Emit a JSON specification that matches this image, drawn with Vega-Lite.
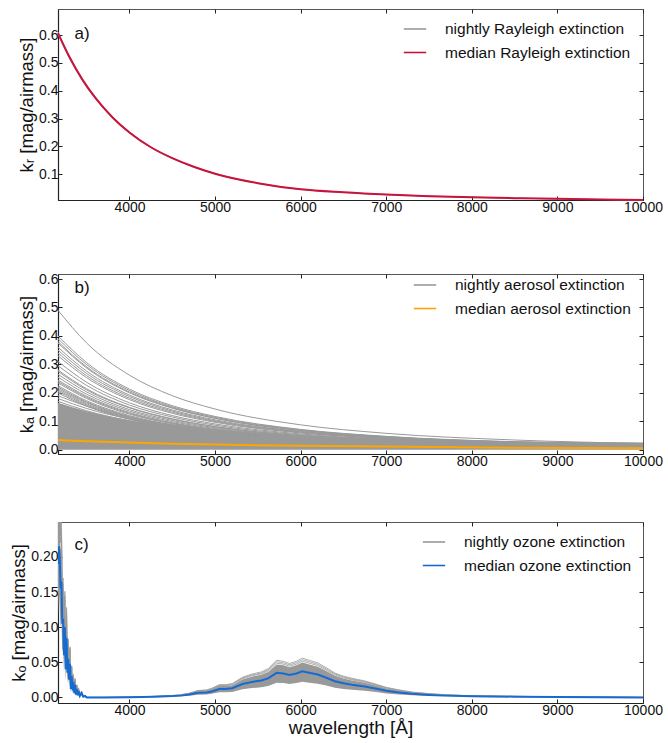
{
  "$schema": "https://vega.github.io/schema/vega-lite/v6.json",
  "padding": {"left": 9, "top": 8, "right": 0, "bottom": 0},
  "config": {
    "font": "Liberation Sans",
    "view": {"stroke": "#555", "strokeWidth": 1},
    "axis": {"domainColor": "#222", "domainWidth": 1.2, "tickColor": "#222", "tickSize": -4, "tickWidth": 1, "labelFontSize": 14, "labelColor": "#111", "labelPadding": 4, "labelFlush": false, "titleFontSize": 18.5, "titleFontWeight": "normal", "titleColor": "#111", "titlePadding": 2, "grid": false},
    "legend": {"labelFontSize": 15.5, "labelColor": "#111", "labelLimit": 0, "symbolType": "stroke", "symbolSize": 500, "symbolStrokeWidth": 1.6, "labelOffset": 18, "padding": 0, "rowPadding": 2.5, "orient": "none"}
  },
  "datasets": {
    "ray": [
      {"w": 3165, "m": 0.607, "n1": 0.611, "n2": 0.603},
      {"w": 3300, "m": 0.52, "n1": 0.524, "n2": 0.516},
      {"w": 3450, "m": 0.44, "n1": 0.443, "n2": 0.437},
      {"w": 3600, "m": 0.375, "n1": 0.378, "n2": 0.372},
      {"w": 3800, "m": 0.305, "n1": 0.307, "n2": 0.303},
      {"w": 4000, "m": 0.25, "n1": 0.252, "n2": 0.248},
      {"w": 4250, "m": 0.197, "n1": 0.198, "n2": 0.196},
      {"w": 4500, "m": 0.158, "n1": 0.159, "n2": 0.157},
      {"w": 4750, "m": 0.127, "n1": 0.128, "n2": 0.126},
      {"w": 5000, "m": 0.102, "n1": 0.103, "n2": 0.101},
      {"w": 5500, "m": 0.068, "n1": 0.0686, "n2": 0.0675},
      {"w": 6000, "m": 0.046, "n1": 0.0464, "n2": 0.0456},
      {"w": 6500, "m": 0.035, "n1": 0.0353, "n2": 0.0347},
      {"w": 7000, "m": 0.027, "n1": 0.0272, "n2": 0.0268},
      {"w": 7500, "m": 0.0215, "n1": 0.0217, "n2": 0.0213},
      {"w": 8000, "m": 0.0175, "n1": 0.0177, "n2": 0.0173},
      {"w": 8500, "m": 0.0142, "n1": 0.0143, "n2": 0.0141},
      {"w": 9000, "m": 0.0117, "n1": 0.0118, "n2": 0.0116},
      {"w": 9500, "m": 0.0096, "n1": 0.0097, "n2": 0.0095},
      {"w": 10000, "m": 0.0078, "n1": 0.0079, "n2": 0.0077}
    ],
    "aer": [
      {"w": 3165, "core": 0.165, "med": 0.034, "l1": 0.49, "l2": 0.40, "l3": 0.39, "l4": 0.38, "l5": 0.375, "l6": 0.36, "l7": 0.35, "l8": 0.34, "l9": 0.33, "l10": 0.31, "l11": 0.295, "l12": 0.28, "l13": 0.275, "l14": 0.265, "l15": 0.255, "l16": 0.245, "l17": 0.24, "l18": 0.235, "l19": 0.225, "l20": 0.22, "l21": 0.215, "l22": 0.21, "l23": 0.205, "l24": 0.20, "l25": 0.19, "l26": 0.18, "l27": 0.17, "l28": 0.16, "l29": 0.15, "l30": 0.14},
      {"w": 3500, "core": 0.135, "med": 0.030, "l1": 0.375, "l2": 0.306, "l3": 0.299, "l4": 0.291, "l5": 0.287, "l6": 0.276, "l7": 0.268, "l8": 0.260, "l9": 0.253, "l10": 0.237, "l11": 0.226, "l12": 0.214, "l13": 0.210, "l14": 0.203, "l15": 0.195, "l16": 0.188, "l17": 0.184, "l18": 0.180, "l19": 0.172, "l20": 0.168, "l21": 0.165, "l22": 0.161, "l23": 0.157, "l24": 0.153, "l25": 0.153, "l26": 0.145, "l27": 0.137, "l28": 0.129, "l29": 0.121, "l30": 0.113},
      {"w": 4000, "core": 0.104, "med": 0.025, "l1": 0.262, "l2": 0.213, "l3": 0.208, "l4": 0.203, "l5": 0.200, "l6": 0.192, "l7": 0.187, "l8": 0.181, "l9": 0.176, "l10": 0.165, "l11": 0.157, "l12": 0.149, "l13": 0.147, "l14": 0.141, "l15": 0.136, "l16": 0.131, "l17": 0.128, "l18": 0.125, "l19": 0.120, "l20": 0.117, "l21": 0.115, "l22": 0.112, "l23": 0.109, "l24": 0.107, "l25": 0.114, "l26": 0.108, "l27": 0.102, "l28": 0.0959, "l29": 0.0899, "l30": 0.0839},
      {"w": 4500, "core": 0.084, "med": 0.021, "l1": 0.190, "l2": 0.155, "l3": 0.151, "l4": 0.148, "l5": 0.146, "l6": 0.140, "l7": 0.136, "l8": 0.132, "l9": 0.128, "l10": 0.120, "l11": 0.115, "l12": 0.109, "l13": 0.107, "l14": 0.103, "l15": 0.099, "l16": 0.0951, "l17": 0.0932, "l18": 0.0913, "l19": 0.0874, "l20": 0.0854, "l21": 0.0835, "l22": 0.0815, "l23": 0.0796, "l24": 0.0777, "l25": 0.0879, "l26": 0.0833, "l27": 0.0786, "l28": 0.074, "l29": 0.0694, "l30": 0.0648},
      {"w": 5000, "core": 0.069, "med": 0.018, "l1": 0.143, "l2": 0.117, "l3": 0.114, "l4": 0.111, "l5": 0.110, "l6": 0.105, "l7": 0.102, "l8": 0.0993, "l9": 0.0964, "l10": 0.0906, "l11": 0.0862, "l12": 0.0818, "l13": 0.0804, "l14": 0.0774, "l15": 0.0745, "l16": 0.0716, "l17": 0.0701, "l18": 0.0687, "l19": 0.0657, "l20": 0.0643, "l21": 0.0628, "l22": 0.0614, "l23": 0.0599, "l24": 0.0584, "l25": 0.0697, "l26": 0.066, "l27": 0.0624, "l28": 0.0587, "l29": 0.055, "l30": 0.0514},
      {"w": 6000, "core": 0.05, "med": 0.014, "l1": 0.0875, "l2": 0.0714, "l3": 0.0697, "l4": 0.0679, "l5": 0.067, "l6": 0.0643, "l7": 0.0625, "l8": 0.0607, "l9": 0.0589, "l10": 0.0554, "l11": 0.0527, "l12": 0.05, "l13": 0.0491, "l14": 0.0473, "l15": 0.0455, "l16": 0.0438, "l17": 0.0429, "l18": 0.042, "l19": 0.0402, "l20": 0.0393, "l21": 0.0384, "l22": 0.0375, "l23": 0.0366, "l24": 0.0357, "l25": 0.0467, "l26": 0.0442, "l27": 0.0418, "l28": 0.0393, "l29": 0.0369, "l30": 0.0344},
      {"w": 7000, "core": 0.039, "med": 0.011, "l1": 0.0577, "l2": 0.0471, "l3": 0.0459, "l4": 0.0448, "l5": 0.0442, "l6": 0.0424, "l7": 0.0412, "l8": 0.0401, "l9": 0.0389, "l10": 0.0365, "l11": 0.0348, "l12": 0.033, "l13": 0.0324, "l14": 0.0312, "l15": 0.03, "l16": 0.0289, "l17": 0.0283, "l18": 0.0277, "l19": 0.0265, "l20": 0.0259, "l21": 0.0253, "l22": 0.0247, "l23": 0.0241, "l24": 0.0236, "l25": 0.0333, "l26": 0.0315, "l27": 0.0298, "l28": 0.028, "l29": 0.0263, "l30": 0.0245},
      {"w": 8500, "core": 0.03, "med": 0.007, "l1": 0.0342, "l2": 0.0279, "l3": 0.0272, "l4": 0.0265, "l5": 0.0261, "l6": 0.0251, "l7": 0.0244, "l8": 0.0237, "l9": 0.023, "l10": 0.0216, "l11": 0.0206, "l12": 0.0195, "l13": 0.0192, "l14": 0.0185, "l15": 0.0178, "l16": 0.0171, "l17": 0.0167, "l18": 0.0164, "l19": 0.0157, "l20": 0.0153, "l21": 0.015, "l22": 0.0146, "l23": 0.0143, "l24": 0.0139, "l25": 0.0217, "l26": 0.0206, "l27": 0.0194, "l28": 0.0183, "l29": 0.0171, "l30": 0.016},
      {"w": 10000, "core": 0.025, "med": 0.005, "l1": 0.0221, "l2": 0.018, "l3": 0.0176, "l4": 0.0171, "l5": 0.0169, "l6": 0.0162, "l7": 0.0158, "l8": 0.0153, "l9": 0.0149, "l10": 0.014, "l11": 0.0133, "l12": 0.0126, "l13": 0.0124, "l14": 0.0119, "l15": 0.0115, "l16": 0.011, "l17": 0.0108, "l18": 0.0106, "l19": 0.0101, "l20": 0.0099, "l21": 0.0097, "l22": 0.0095, "l23": 0.0092, "l24": 0.009, "l25": 0.0152, "l26": 0.0144, "l27": 0.0136, "l28": 0.0128, "l29": 0.012, "l30": 0.0112}
    ],
    "ozo": [
      {"w": 3165, "m": 0.19, "lo": 0.114, "hi": 0.3, "t1": 0.3, "t2": 0.3, "t3": 0.3},
      {"w": 3175, "m": 0.215, "lo": 0.15, "hi": 0.29, "t1": 0.29, "t2": 0.3, "t3": 0.31},
      {"w": 3185, "m": 0.20, "lo": 0.13, "hi": 0.28, "t1": 0.29, "t2": 0.3, "t3": 0.31},
      {"w": 3195, "m": 0.155, "lo": 0.10, "hi": 0.21, "t1": 0.22, "t2": 0.23, "t3": 0.235},
      {"w": 3205, "m": 0.165, "lo": 0.11, "hi": 0.22, "t1": 0.23, "t2": 0.24, "t3": 0.25},
      {"w": 3215, "m": 0.105, "lo": 0.065, "hi": 0.14, "t1": 0.146, "t2": 0.152, "t3": 0.16},
      {"w": 3225, "m": 0.112, "lo": 0.07, "hi": 0.15, "t1": 0.156, "t2": 0.162, "t3": 0.17},
      {"w": 3235, "m": 0.06, "lo": 0.036, "hi": 0.08, "t1": 0.083, "t2": 0.087, "t3": 0.09},
      {"w": 3245, "m": 0.10, "lo": 0.06, "hi": 0.134, "t1": 0.139, "t2": 0.145, "t3": 0.151},
      {"w": 3255, "m": 0.04, "lo": 0.024, "hi": 0.054, "t1": 0.056, "t2": 0.058, "t3": 0.06},
      {"w": 3265, "m": 0.085, "lo": 0.051, "hi": 0.114, "t1": 0.118, "t2": 0.123, "t3": 0.128},
      {"w": 3275, "m": 0.035, "lo": 0.021, "hi": 0.047, "t1": 0.049, "t2": 0.051, "t3": 0.053},
      {"w": 3285, "m": 0.055, "lo": 0.033, "hi": 0.074, "t1": 0.076, "t2": 0.08, "t3": 0.083},
      {"w": 3295, "m": 0.025, "lo": 0.015, "hi": 0.034, "t1": 0.035, "t2": 0.036, "t3": 0.038},
      {"w": 3305, "m": 0.048, "lo": 0.029, "hi": 0.064, "t1": 0.067, "t2": 0.07, "t3": 0.072},
      {"w": 3315, "m": 0.012, "lo": 0.007, "hi": 0.016, "t1": 0.017, "t2": 0.017, "t3": 0.018},
      {"w": 3325, "m": 0.03, "lo": 0.018, "hi": 0.04, "t1": 0.042, "t2": 0.044, "t3": 0.045},
      {"w": 3335, "m": 0.01, "lo": 0.006, "hi": 0.013, "t1": 0.014, "t2": 0.0145, "t3": 0.015},
      {"w": 3345, "m": 0.022, "lo": 0.013, "hi": 0.029, "t1": 0.031, "t2": 0.032, "t3": 0.033},
      {"w": 3355, "m": 0.006, "lo": 0.004, "hi": 0.008, "t1": 0.0083, "t2": 0.0087, "t3": 0.009},
      {"w": 3365, "m": 0.018, "lo": 0.011, "hi": 0.024, "t1": 0.025, "t2": 0.026, "t3": 0.027},
      {"w": 3375, "m": 0.004, "lo": 0.0024, "hi": 0.0054, "t1": 0.0056, "t2": 0.0058, "t3": 0.006},
      {"w": 3385, "m": 0.012, "lo": 0.007, "hi": 0.016, "t1": 0.017, "t2": 0.017, "t3": 0.018},
      {"w": 3395, "m": 0.003, "lo": 0.0018, "hi": 0.004, "t1": 0.0042, "t2": 0.0044, "t3": 0.0045},
      {"w": 3405, "m": 0.009, "lo": 0.0054, "hi": 0.012, "t1": 0.0125, "t2": 0.013, "t3": 0.0136},
      {"w": 3420, "m": 0.002, "lo": 0.0012, "hi": 0.0027, "t1": 0.0028, "t2": 0.0029, "t3": 0.003},
      {"w": 3440, "m": 0.006, "lo": 0.0036, "hi": 0.008, "t1": 0.0083, "t2": 0.0087, "t3": 0.009},
      {"w": 3460, "m": 0.001, "lo": 0.0006, "hi": 0.0013, "t1": 0.0014, "t2": 0.0015, "t3": 0.0015},
      {"w": 3480, "m": 0.002, "lo": 0.0012, "hi": 0.0027, "t1": 0.0028, "t2": 0.0029, "t3": 0.003},
      {"w": 3500, "m": 0.0, "lo": 0.0, "hi": 0.0, "t1": 0.0, "t2": 0.0, "t3": 0.0},
      {"w": 3700, "m": 0.0, "lo": 0.0, "hi": 0.0, "t1": 0.0, "t2": 0.0, "t3": 0.0},
      {"w": 4000, "m": 0.0003, "lo": 0.0002, "hi": 0.0004, "t1": 0.0004, "t2": 0.0004, "t3": 0.0005},
      {"w": 4300, "m": 0.001, "lo": 0.0006, "hi": 0.0013, "t1": 0.0014, "t2": 0.0015, "t3": 0.0015},
      {"w": 4500, "m": 0.0018, "lo": 0.0011, "hi": 0.0024, "t1": 0.0025, "t2": 0.0026, "t3": 0.0027},
      {"w": 4600, "m": 0.0025, "lo": 0.0015, "hi": 0.0034, "t1": 0.0035, "t2": 0.0036, "t3": 0.0038},
      {"w": 4700, "m": 0.004, "lo": 0.0024, "hi": 0.0054, "t1": 0.0056, "t2": 0.0058, "t3": 0.006},
      {"w": 4800, "m": 0.0065, "lo": 0.0039, "hi": 0.0087, "t1": 0.009, "t2": 0.0094, "t3": 0.0098},
      {"w": 4900, "m": 0.007, "lo": 0.0042, "hi": 0.0094, "t1": 0.0097, "t2": 0.0102, "t3": 0.0106},
      {"w": 4960, "m": 0.0085, "lo": 0.0051, "hi": 0.0114, "t1": 0.0118, "t2": 0.0123, "t3": 0.0128},
      {"w": 5050, "m": 0.012, "lo": 0.0072, "hi": 0.0161, "t1": 0.0167, "t2": 0.0174, "t3": 0.0181},
      {"w": 5120, "m": 0.012, "lo": 0.0072, "hi": 0.0161, "t1": 0.0167, "t2": 0.0174, "t3": 0.0181},
      {"w": 5200, "m": 0.013, "lo": 0.0078, "hi": 0.0174, "t1": 0.0181, "t2": 0.0189, "t3": 0.0196},
      {"w": 5320, "m": 0.019, "lo": 0.0114, "hi": 0.0255, "t1": 0.0264, "t2": 0.0276, "t3": 0.0287},
      {"w": 5430, "m": 0.022, "lo": 0.0132, "hi": 0.0295, "t1": 0.0306, "t2": 0.0319, "t3": 0.0332},
      {"w": 5540, "m": 0.024, "lo": 0.0144, "hi": 0.0322, "t1": 0.0334, "t2": 0.0348, "t3": 0.0362},
      {"w": 5620, "m": 0.027, "lo": 0.0162, "hi": 0.0362, "t1": 0.0375, "t2": 0.0392, "t3": 0.0408},
      {"w": 5720, "m": 0.035, "lo": 0.021, "hi": 0.0469, "t1": 0.0487, "t2": 0.0508, "t3": 0.0529},
      {"w": 5800, "m": 0.034, "lo": 0.0204, "hi": 0.0456, "t1": 0.0473, "t2": 0.0493, "t3": 0.0513},
      {"w": 5870, "m": 0.032, "lo": 0.0192, "hi": 0.0429, "t1": 0.0445, "t2": 0.0464, "t3": 0.0483},
      {"w": 5950, "m": 0.034, "lo": 0.0204, "hi": 0.0456, "t1": 0.0473, "t2": 0.0493, "t3": 0.0513},
      {"w": 6020, "m": 0.037, "lo": 0.0222, "hi": 0.0496, "t1": 0.0514, "t2": 0.0537, "t3": 0.0559},
      {"w": 6100, "m": 0.035, "lo": 0.021, "hi": 0.0469, "t1": 0.0487, "t2": 0.0508, "t3": 0.0529},
      {"w": 6200, "m": 0.0325, "lo": 0.0195, "hi": 0.0436, "t1": 0.0452, "t2": 0.0471, "t3": 0.0491},
      {"w": 6300, "m": 0.028, "lo": 0.0168, "hi": 0.0375, "t1": 0.0389, "t2": 0.0406, "t3": 0.0423},
      {"w": 6400, "m": 0.023, "lo": 0.0138, "hi": 0.0308, "t1": 0.032, "t2": 0.0334, "t3": 0.0347},
      {"w": 6500, "m": 0.02, "lo": 0.012, "hi": 0.0268, "t1": 0.0278, "t2": 0.029, "t3": 0.0302},
      {"w": 6600, "m": 0.018, "lo": 0.0108, "hi": 0.0241, "t1": 0.025, "t2": 0.0261, "t3": 0.0272},
      {"w": 6750, "m": 0.0155, "lo": 0.0093, "hi": 0.0208, "t1": 0.0215, "t2": 0.0225, "t3": 0.0234},
      {"w": 6900, "m": 0.012, "lo": 0.0072, "hi": 0.0161, "t1": 0.0167, "t2": 0.0174, "t3": 0.0181},
      {"w": 7000, "m": 0.0095, "lo": 0.0057, "hi": 0.0127, "t1": 0.0132, "t2": 0.0138, "t3": 0.0143},
      {"w": 7150, "m": 0.007, "lo": 0.0042, "hi": 0.0094, "t1": 0.0097, "t2": 0.0102, "t3": 0.0106},
      {"w": 7300, "m": 0.005, "lo": 0.003, "hi": 0.0067, "t1": 0.007, "t2": 0.0073, "t3": 0.0076},
      {"w": 7500, "m": 0.0035, "lo": 0.0021, "hi": 0.0047, "t1": 0.0049, "t2": 0.0051, "t3": 0.0053},
      {"w": 7700, "m": 0.0025, "lo": 0.0015, "hi": 0.0034, "t1": 0.0035, "t2": 0.0036, "t3": 0.0038},
      {"w": 8000, "m": 0.0015, "lo": 0.0009, "hi": 0.002, "t1": 0.0021, "t2": 0.0022, "t3": 0.0023},
      {"w": 8500, "m": 0.001, "lo": 0.0006, "hi": 0.0013, "t1": 0.0014, "t2": 0.0015, "t3": 0.0015},
      {"w": 9000, "m": 0.0006, "lo": 0.0004, "hi": 0.0008, "t1": 0.0008, "t2": 0.0009, "t3": 0.0009},
      {"w": 9500, "m": 0.0003, "lo": 0.0002, "hi": 0.0004, "t1": 0.0004, "t2": 0.0004, "t3": 0.0005},
      {"w": 10000, "m": 0.0, "lo": 0.0, "hi": 0.0, "t1": 0.0, "t2": 0.0, "t3": 0.0}
    ]
  },
  "spacing": 56,
  "resolve": {"scale": {"x": "independent", "y": "independent", "color": "independent"}, "legend": {"color": "independent"}},
  "vconcat": [
    {
      "width": 585,
      "height": 191,
      "data": {"name": "ray"},
      "resolve": {"axis": {"x": "independent", "y": "independent"}},
      "layer": [
        {
          "transform": [{"fold": ["n1", "n2"], "as": ["night", "k"]}],
          "mark": {"type": "line", "strokeWidth": 1, "interpolate": "monotone"},
          "encoding": {
            "x": {"field": "w", "type": "quantitative", "scale": {"domain": [3165, 10000], "nice": false, "zero": false}, "axis": {"values": [4000, 5000, 6000, 7000, 8000, 9000, 10000], "format": "d", "title": null}},
            "y": {"field": "k", "type": "quantitative", "scale": {"domain": [0.0076, 0.6935], "nice": false, "zero": false}, "axis": {"values": [0.1, 0.2, 0.3, 0.4, 0.5, 0.6], "format": ".1f", "title": "kᵣ [mag/airmass]"}},
            "detail": {"field": "night"},
            "color": {"datum": "nightly Rayleigh extinction", "type": "nominal", "scale": {"domain": ["nightly Rayleigh extinction", "median Rayleigh extinction"], "range": ["#999999", "#c8143c"]}, "legend": {"title": null, "legendX": 345, "legendY": 8}}
          }
        },
        {
          "mark": {"type": "line", "strokeWidth": 2, "interpolate": "monotone"},
          "encoding": {
            "x": {"field": "w", "type": "quantitative", "axis": null},
            "y": {"field": "m", "type": "quantitative", "axis": null},
            "color": {"datum": "median Rayleigh extinction", "type": "nominal"}
          }
        },
        {
          "mark": {"type": "line", "opacity": 0},
          "encoding": {
            "x": {"field": "w", "type": "quantitative", "axis": {"orient": "top", "labels": false, "domain": false, "title": null, "values": [4000, 5000, 6000, 7000, 8000, 9000, 10000]}},
            "y": {"field": "m", "type": "quantitative", "axis": {"orient": "right", "labels": false, "domain": false, "title": null, "values": [0.1, 0.2, 0.3, 0.4, 0.5, 0.6]}}
          }
        },
        {
          "data": {"values": [{"label": "a)"}]},
          "mark": {"type": "text", "align": "left", "baseline": "middle", "fontSize": 17, "color": "#111"},
          "encoding": {
            "x": {"datum": 3357, "type": "quantitative", "axis": null},
            "y": {"datum": 0.602, "type": "quantitative", "axis": null},
            "text": {"field": "label"}
          }
        }
      ]
    },
    {
      "spacing": 52,
      "resolve": {"scale": {"x": "independent", "y": "independent", "color": "independent"}, "legend": {"color": "independent"}},
      "vconcat": [
        {
          "width": 585,
          "height": 180,
          "data": {"name": "aer"},
          "resolve": {"axis": {"x": "independent", "y": "independent"}},
          "layer": [
            {
              "mark": {"type": "area", "color": "#999999", "interpolate": "monotone"},
              "encoding": {
                "x": {"field": "w", "type": "quantitative", "scale": {"domain": [3165, 10000], "nice": false, "zero": false}, "axis": {"values": [4000, 5000, 6000, 7000, 8000, 9000, 10000], "format": "d", "title": null}},
                "y": {"field": "core", "type": "quantitative", "scale": {"domain": [-0.015, 0.6176], "nice": false, "zero": false}, "axis": {"values": [0, 0.1, 0.2, 0.3, 0.4, 0.5, 0.6], "format": ".1f", "title": "kₐ [mag/airmass]"}}
              }
            },
            {
              "transform": [{"fold": ["l1", "l2", "l3", "l4", "l5", "l6", "l7", "l8", "l9", "l10", "l11", "l12", "l13", "l14", "l15", "l16", "l17", "l18", "l19", "l20", "l21", "l22", "l23", "l24", "l25", "l26", "l27", "l28", "l29", "l30"], "as": ["night", "k"]}],
              "mark": {"type": "line", "strokeWidth": 1, "interpolate": "monotone"},
              "encoding": {
                "x": {"field": "w", "type": "quantitative", "axis": null},
                "y": {"field": "k", "type": "quantitative", "axis": null},
                "detail": {"field": "night"},
                "color": {"datum": "nightly aerosol extinction", "type": "nominal", "scale": {"domain": ["nightly aerosol extinction", "median aerosol extinction"], "range": ["#999999", "#ffa500"]}, "legend": {"title": null, "legendX": 355, "legendY": -1}}
              }
            },
            {
              "mark": {"type": "line", "strokeWidth": 2, "interpolate": "monotone"},
              "encoding": {
                "x": {"field": "w", "type": "quantitative", "axis": null},
                "y": {"field": "med", "type": "quantitative", "axis": null},
                "color": {"datum": "median aerosol extinction", "type": "nominal"}
              }
            },
            {
              "mark": {"type": "line", "opacity": 0},
              "encoding": {
                "x": {"field": "w", "type": "quantitative", "axis": {"orient": "top", "labels": false, "domain": false, "title": null, "values": [4000, 5000, 6000, 7000, 8000, 9000, 10000]}},
                "y": {"field": "med", "type": "quantitative", "axis": {"orient": "right", "labels": false, "domain": false, "title": null, "values": [0, 0.1, 0.2, 0.3, 0.4, 0.5, 0.6]}}
              }
            },
            {
              "data": {"values": [{"label": "b)"}]},
              "mark": {"type": "text", "align": "left", "baseline": "middle", "fontSize": 17, "color": "#111"},
              "encoding": {
                "x": {"datum": 3357, "type": "quantitative", "axis": null},
                "y": {"datum": 0.57, "type": "quantitative", "axis": null},
                "text": {"field": "label"}
              }
            }
          ]
        },
        {
          "width": 585,
          "height": 181,
          "data": {"name": "ozo"},
          "resolve": {"axis": {"x": "independent", "y": "independent"}},
          "layer": [
            {
              "mark": {"type": "area", "color": "#999999", "clip": true},
              "encoding": {
                "x": {"field": "w", "type": "quantitative", "scale": {"domain": [3165, 10000], "nice": false, "zero": false}, "axis": {"values": [4000, 5000, 6000, 7000, 8000, 9000, 10000], "format": "d", "title": "wavelength [Å]", "titleFontSize": 19, "titlePadding": 1}},
                "y": {"field": "lo", "type": "quantitative", "scale": {"domain": [-0.008, 0.2497], "nice": false, "zero": false}, "axis": {"values": [0, 0.05, 0.1, 0.15, 0.2], "format": ".2f", "title": "kₒ [mag/airmass]"}},
                "y2": {"field": "hi"}
              }
            },
            {
              "transform": [{"fold": ["t1", "t2", "t3"], "as": ["night", "k"]}],
              "mark": {"type": "line", "strokeWidth": 0.8, "clip": true},
              "encoding": {
                "x": {"field": "w", "type": "quantitative", "axis": null},
                "y": {"field": "k", "type": "quantitative", "axis": null},
                "detail": {"field": "night"},
                "color": {"datum": "nightly ozone extinction", "type": "nominal", "scale": {"domain": ["nightly ozone extinction", "median ozone extinction"], "range": ["#999999", "#166bd0"]}, "legend": {"title": null, "legendX": 364, "legendY": 8}}
              }
            },
            {
              "mark": {"type": "line", "strokeWidth": 2, "clip": true},
              "encoding": {
                "x": {"field": "w", "type": "quantitative", "axis": null},
                "y": {"field": "m", "type": "quantitative", "axis": null},
                "color": {"datum": "median ozone extinction", "type": "nominal"}
              }
            },
            {
              "mark": {"type": "line", "opacity": 0},
              "encoding": {
                "x": {"field": "w", "type": "quantitative", "axis": {"orient": "top", "labels": false, "domain": false, "title": null, "values": [4000, 5000, 6000, 7000, 8000, 9000, 10000]}},
                "y": {"field": "m", "type": "quantitative", "axis": {"orient": "right", "labels": false, "domain": false, "title": null, "values": [0, 0.05, 0.1, 0.15, 0.2]}}
              }
            },
            {
              "data": {"values": [{"label": "c)"}]},
              "mark": {"type": "text", "align": "left", "baseline": "middle", "fontSize": 17, "color": "#111"},
              "encoding": {
                "x": {"datum": 3357, "type": "quantitative", "axis": null},
                "y": {"datum": 0.2173, "type": "quantitative", "axis": null},
                "text": {"field": "label"}
              }
            }
          ]
        }
      ]
    }
  ]
}
